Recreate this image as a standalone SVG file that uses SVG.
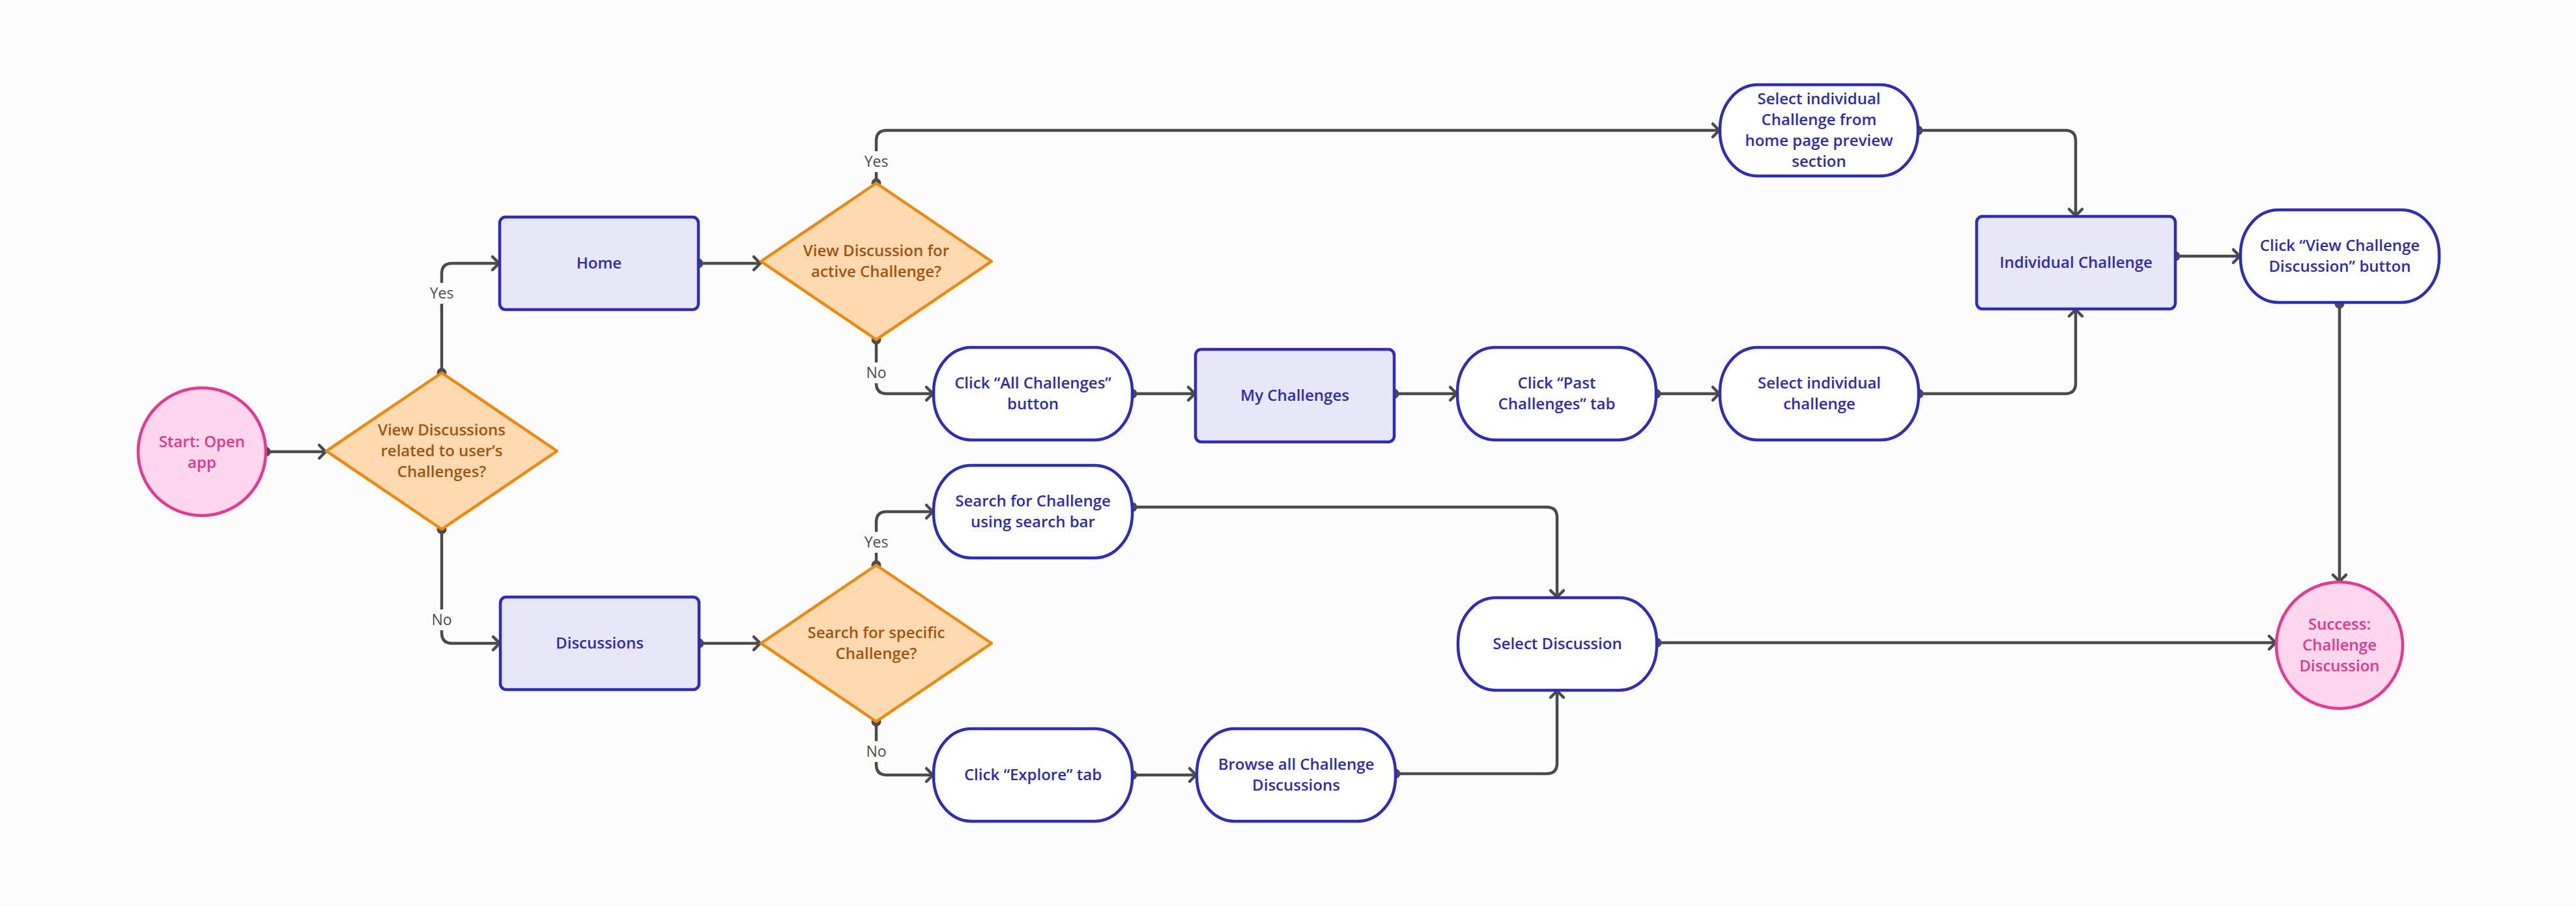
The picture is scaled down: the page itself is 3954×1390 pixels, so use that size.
<svg xmlns="http://www.w3.org/2000/svg" width="3954" height="1390" viewBox="0 0 3954 1390">
<defs>
<style>
text{font-family:"Open Sans","Noto Sans","Liberation Sans",sans-serif;font-size:24px;font-weight:600;text-anchor:middle}
.proc{fill:#e7e7f8;stroke:#2e2ac2;stroke-width:4.5}
.act{fill:#ffffff;stroke:#2e2ac2;stroke-width:4.5}
.dec{fill:#ffdab0;stroke:#f0890a;stroke-width:4.5;stroke-linejoin:round}
.term{fill:#ffd7ec;stroke:#ec3590;stroke-width:4.5}
.tb{fill:#2e2ab8}
.to{fill:#a5520d}
.tp{fill:#e6358c}
.conn path{fill:none;stroke:#4b4b4b;stroke-width:4.5;marker-start:url(#dot);marker-end:url(#arrow)}
.lbg{fill:#fcfcfc}
.lbl{fill:#4b4b4b;font-size:23px;font-weight:500}
</style>
<marker id="arrow" markerUnits="userSpaceOnUse" markerWidth="30" markerHeight="30" viewBox="-15 -15 30 30" refX="0" refY="0" orient="auto" overflow="visible">
<path d="M-11,-10 L-1,0 L-11,10" fill="none" stroke="#4b4b4b" stroke-width="4.5" stroke-linecap="round" stroke-linejoin="round"/>
</marker>
<marker id="dot" markerUnits="userSpaceOnUse" markerWidth="20" markerHeight="20" viewBox="-10 -10 20 20" refX="0" refY="0" orient="auto" overflow="visible">
<circle cx="0" cy="0" r="7.5" fill="#4b4b4b"/>
</marker>
</defs>
<rect x="0" y="0" width="3954" height="1390" fill="#fcfcfc"/>

<g id="connectors" class="conn">
<path d="M408,693 H501"/>
<path d="M678,572 V420 Q678,404 694,404 H767"/>
<path d="M678,812 V971 Q678,987 694,987 H768"/>
<path d="M1072,404 H1168"/>
<path d="M1345,281 V216 Q1345,200 1361,200 H2640"/>
<path d="M1345,521 V588 Q1345,604 1361,604 H1433"/>
<path d="M1738,604 H1835"/>
<path d="M2140,604 H2237"/>
<path d="M2542,604 H2640"/>
<path d="M2945,604 H3170 Q3186,604 3186,588 V474"/>
<path d="M2944,200 H3170 Q3186,200 3186,216 V332"/>
<path d="M3339,393 H3439"/>
<path d="M3591,466 V893"/>
<path d="M1073,987 H1168"/>
<path d="M1345,867 V801 Q1345,785 1361,785 H1433"/>
<path d="M1345,1107 V1173 Q1345,1189 1361,1189 H1433"/>
<path d="M1738,778 H2374 Q2390,778 2390,794 V917"/>
<path d="M1738,1189 H1837"/>
<path d="M2142,1187 H2374 Q2390,1187 2390,1171 V1059"/>
<path d="M2543,986 H3494"/>
</g>

<g id="labels">
<rect class="lbg" x="656" y="434" width="44" height="32"/>
<text class="lbl" x="678" y="458">Yes</text>
<rect class="lbg" x="660" y="935" width="36" height="32"/>
<text class="lbl" x="678" y="959">No</text>
<rect class="lbg" x="1323" y="232" width="44" height="32"/>
<text class="lbl" x="1345" y="256">Yes</text>
<rect class="lbg" x="1327" y="556" width="36" height="32"/>
<text class="lbl" x="1345" y="580">No</text>
<rect class="lbg" x="1323" y="816" width="44" height="32"/>
<text class="lbl" x="1345" y="840">Yes</text>
<rect class="lbg" x="1327" y="1137" width="36" height="32"/>
<text class="lbl" x="1345" y="1161">No</text>
</g>

<g id="start">
<circle class="term" cx="310" cy="693" r="98"/>
<text class="tp" x="310" y="686">Start: Open</text>
<text class="tp" x="310" y="718">app</text>
</g>

<g id="d1">
<polygon class="dec" points="501,692 678,572 855,692 678,812"/>
<text class="to" x="678" y="668">View Discussions</text>
<text class="to" x="678" y="700">related to user’s</text>
<text class="to" x="678" y="732">Challenges?</text>
</g>

<g id="home">
<rect class="proc" x="767" y="333" width="305" height="142" rx="9"/>
<text class="tb" x="919.5" y="412">Home</text>
</g>

<g id="discussions">
<rect class="proc" x="768" y="916" width="305" height="142" rx="9"/>
<text class="tb" x="920.5" y="995">Discussions</text>
</g>

<g id="d2">
<polygon class="dec" points="1168,401 1345,281 1522,401 1345,521"/>
<text class="to" x="1345" y="393">View Discussion for</text>
<text class="to" x="1345" y="425">active Challenge?</text>
</g>

<g id="d3">
<polygon class="dec" points="1168,987 1345,867 1522,987 1345,1107"/>
<text class="to" x="1345" y="979">Search for specific</text>
<text class="to" x="1345" y="1011">Challenge?</text>
</g>

<g id="select-home">
<rect class="act" x="2640" y="130" width="304" height="140" rx="58" ry="68"/>
<text class="tb" x="2792" y="160">Select individual</text>
<text class="tb" x="2792" y="192">Challenge from</text>
<text class="tb" x="2792" y="224">home page preview</text>
<text class="tb" x="2792" y="256">section</text>
</g>

<g id="click-all">
<rect class="act" x="1433" y="533" width="305" height="142" rx="58" ry="68"/>
<text class="tb" x="1585.5" y="596">Click “All Challenges”</text>
<text class="tb" x="1585.5" y="628">button</text>
</g>

<g id="my-challenges">
<rect class="proc" x="1835" y="536" width="305" height="142" rx="9"/>
<text class="tb" x="1987.5" y="615">My Challenges</text>
</g>

<g id="click-past">
<rect class="act" x="2237" y="533" width="305" height="142" rx="58" ry="68"/>
<text class="tb" x="2389.5" y="596">Click “Past</text>
<text class="tb" x="2389.5" y="628">Challenges” tab</text>
</g>

<g id="select-individual">
<rect class="act" x="2640" y="533" width="305" height="142" rx="58" ry="68"/>
<text class="tb" x="2792.5" y="596">Select individual</text>
<text class="tb" x="2792.5" y="628">challenge</text>
</g>

<g id="individual-challenge">
<rect class="proc" x="3034" y="332" width="305" height="142" rx="9"/>
<text class="tb" x="3186.5" y="411">Individual Challenge</text>
</g>

<g id="click-view">
<rect class="act" x="3439" y="322" width="305" height="142" rx="58" ry="68"/>
<text class="tb" x="3591.5" y="385">Click “View Challenge</text>
<text class="tb" x="3591.5" y="417">Discussion” button</text>
</g>

<g id="search">
<rect class="act" x="1433" y="714" width="305" height="142" rx="58" ry="68"/>
<text class="tb" x="1585.5" y="777">Search for Challenge</text>
<text class="tb" x="1585.5" y="809">using search bar</text>
</g>

<g id="select-discussion">
<rect class="act" x="2238" y="917" width="305" height="142" rx="58" ry="68"/>
<text class="tb" x="2390.5" y="996">Select Discussion</text>
</g>

<g id="explore">
<rect class="act" x="1433" y="1118" width="305" height="142" rx="58" ry="68"/>
<text class="tb" x="1585.5" y="1197">Click “Explore” tab</text>
</g>

<g id="browse">
<rect class="act" x="1837" y="1118" width="305" height="142" rx="58" ry="68"/>
<text class="tb" x="1989.5" y="1181">Browse all Challenge</text>
<text class="tb" x="1989.5" y="1213">Discussions</text>
</g>

<g id="success">
<circle class="term" cx="3591" cy="990" r="97"/>
<text class="tp" x="3591" y="966">Success:</text>
<text class="tp" x="3591" y="998">Challenge</text>
<text class="tp" x="3591" y="1030">Discussion</text>
</g>
</svg>
